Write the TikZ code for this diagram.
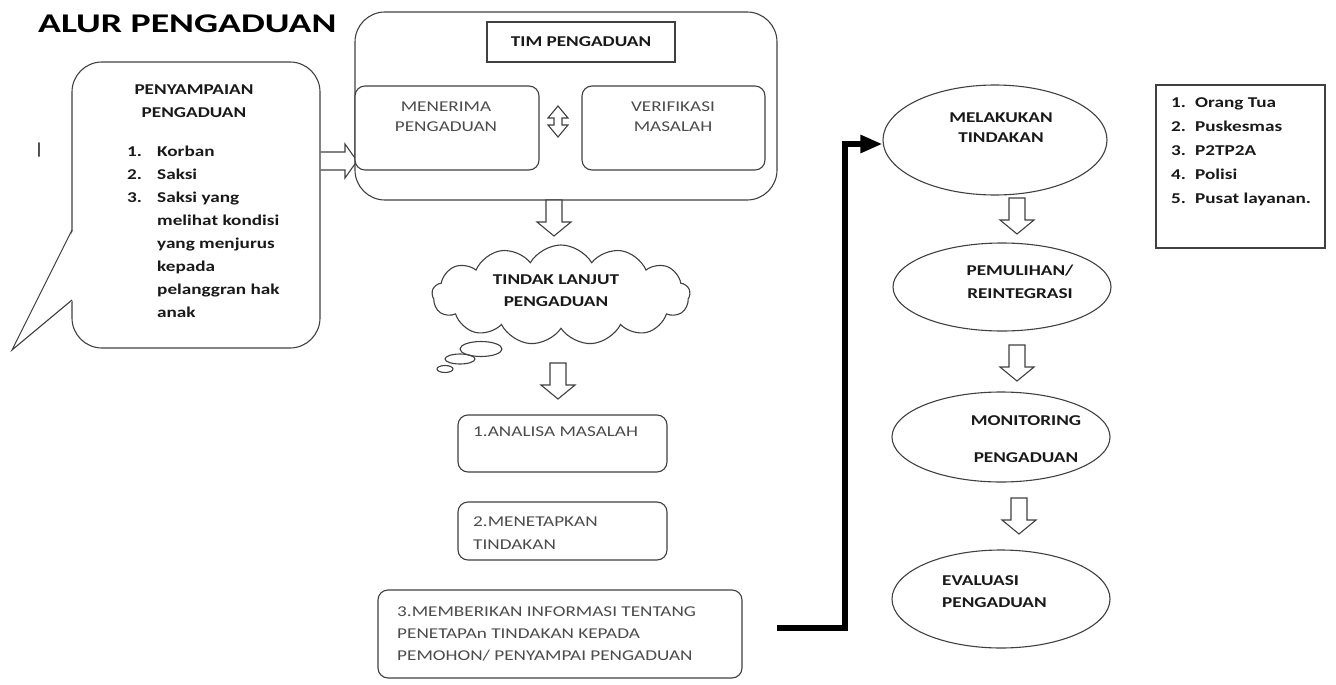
\documentclass[tikz,border=0pt]{standalone}
\usepackage{fontspec}
\setmainfont[FakeStretch=1.28]{Carlito}
\newfontfamily\titlefont[FakeStretch=1.4]{Carlito}
\usetikzlibrary{shapes.geometric,shapes.symbols,arrows.meta}
\begin{document}
\begin{tikzpicture}[x=1pt,y=-1pt,
  outl/.style={draw=black!75,line width=1.1pt},
  btxt/.style={inner sep=0pt,font=\bfseries\fontsize{15}{23}\selectfont,text=black!90},
  gtxt/.style={inner sep=0pt,font=\fontsize{15}{22}\selectfont,text=black!70},
  rbox/.style={outl,rectangle,rounded corners=10pt,inner sep=0pt,fill=white},
  oval/.style={outl,ellipse,inner sep=0pt},
  hdown/.pic={\draw[outl,fill=white] (-8,0) -- (8,0) -- (8,22) -- (17,22) -- (0,36) -- (-17,22) -- (-8,22) -- cycle;},
  conn/.style={line width=5.5pt,-{Triangle[length=22pt,width=17pt]}}]
\useasboundingbox (0,0) rectangle (1336,685);

% title
\node[anchor=west,inner sep=0pt,font=\titlefont\bfseries\fontsize{27}{30}\selectfont] (title) at (38,23.5) {ALUR PENGADUAN};
\node[inner sep=0pt,font=\fontsize{16}{18}\selectfont] (cursor) at (39,150) {|};

% speech bubble
\node[outl,rectangle,rounded corners=30pt,minimum width=248,minimum height=286,inner sep=0pt] (bubble) at (196,205) {};
\fill[white] (73.5,230) -- (12,350) -- (73.5,300) -- cycle;
\draw[outl] (72,230) -- (12,350) -- (72,300);
\node[btxt,anchor=north,align=center] (btitle) at (194,85) {PENYAMPAIAN\\PENGADUAN};
\node[btxt,anchor=north west,align=left] (bnum) at (127,147) {1.\\2.\\3.};
\node[btxt,anchor=north west,align=left] (blist) at (157,146) {Korban\\Saksi\\Saksi yang\\melihat kondisi\\yang menjurus\\kepada\\pelanggran hak\\anak};

% hollow arrow bubble -> tim
\draw[outl] (bubble.east |- 0,152) -- (345,152) -- (345,144) -- (357,161) -- (345,178) -- (345,170) -- (bubble.east |- 0,170);

% TIM box
\node[outl,rectangle,rounded corners=30pt,minimum width=422,minimum height=188,inner sep=0pt] (tim) at (566,106) {};
\node[outl,rectangle,minimum width=188,minimum height=40,btxt] (timt) at (581,42) {TIM PENGADUAN};
\node[rbox,minimum width=184,minimum height=84] (ter) at (447,128) {};
\node[gtxt,anchor=north,align=center,font=\fontsize{15}{20}\selectfont] (tert) at (446,102) {MENERIMA\\PENGADUAN};
\node[rbox,minimum width=183,minimum height=84] (ver) at (673.5,128) {};
\node[gtxt,anchor=north,align=center,font=\fontsize{15}{20}\selectfont] (vert) at (673,102) {VERIFIKASI\\MASALAH};
\draw[outl] (558,106) -- (568,118) -- (562,118) -- (562,125) -- (568,125) -- (558,137) -- (548,125) -- (554,125) -- (554,118) -- (548,118) -- cycle;

% arrow to cloud
\pic at (554,200) {hdown};

% cloud
\node[outl,cloud,cloud puffs=13,cloud puff arc=120,cloud ignores aspect,minimum width=258,minimum height=100,fill=white] (cloud) at (561,295) {};
\node[btxt,anchor=north,align=center,font=\bfseries\fontsize{15}{22}\selectfont] (cloudt) at (556,275) {TINDAK LANJUT\\PENGADUAN};
\draw[outl] (481,349) ellipse [x radius=21pt,y radius=7.5pt];
\draw[outl] (460,359) ellipse [x radius=15pt,y radius=5pt];
\draw[outl] (445,369) ellipse [x radius=8pt,y radius=3.5pt];

\pic at (558,363) {hdown};

% steps
\node[rbox,minimum width=209,minimum height=57] (b1) at (562.5,443.5) {};
\node[gtxt,anchor=west] (b1t) at (473,432) {1.ANALISA MASALAH};
\node[rbox,minimum width=209,minimum height=58] (b2) at (562.5,531) {};
\node[gtxt,anchor=north west,align=left,font=\fontsize{15}{23}\selectfont] (b2t) at (473,517) {2.MENETAPKAN\\TINDAKAN};
\node[rbox,minimum width=364,minimum height=88] (b3) at (560,634) {};
\node[gtxt,anchor=north west,align=left] (b3t) at (397,607) {3.MEMBERIKAN INFORMASI TENTANG\\PENETAPAn TINDAKAN KEPADA\\PEMOHON/ PENYAMPAI PENGADUAN};

% ellipses
\node[oval,minimum width=224,minimum height=110] (mel) at (995,140) {};
\node[btxt,anchor=north,align=center,font=\bfseries\fontsize{15}{20}\selectfont] (melt) at (1001,113) {MELAKUKAN\\TINDAKAN};
\node[oval,minimum width=218,minimum height=88] (pem) at (1002,287) {};
\node[btxt,anchor=north,align=center] (pemt) at (1020,265) {PEMULIHAN/\\REINTEGRASI};
\node[oval,minimum width=218,minimum height=90] (mon) at (1001,437) {};
\node[btxt,anchor=north,align=center,font=\bfseries\fontsize{15}{37}\selectfont] (mont) at (1026,415) {MONITORING\\PENGADUAN};
\node[oval,minimum width=218,minimum height=98] (eva) at (1001,599) {};
\node[btxt,anchor=north west,align=left,font=\bfseries\fontsize{15}{22}\selectfont] (evat) at (942,575) {EVALUASI\\PENGADUAN};

\pic at (1017,198) {hdown};
\pic at (1017,345) {hdown};
\pic at (1019,498) {hdown};

% thick connector
\coordinate (cstart) at (777,628);
\draw[conn] (cstart) -- (845,628) |- ([yshift=-4pt]mel.west);

% list box
\node[outl,line width=1.5pt,rectangle,minimum width=169,minimum height=163,inner sep=0pt] (lst) at (1240.5,166.5) {};
\node[btxt,anchor=north west,align=left,font=\bfseries\fontsize{15}{24}\selectfont] (lstn) at (1171,98) {1.\\2.\\3.\\4.\\5.};
\node[btxt,anchor=north west,align=left,font=\bfseries\fontsize{15}{24}\selectfont] (lstt) at (1195,97) {Orang Tua\\Puskesmas\\P2TP2A\\Polisi\\Pusat layanan.};
\end{tikzpicture}
\end{document}
